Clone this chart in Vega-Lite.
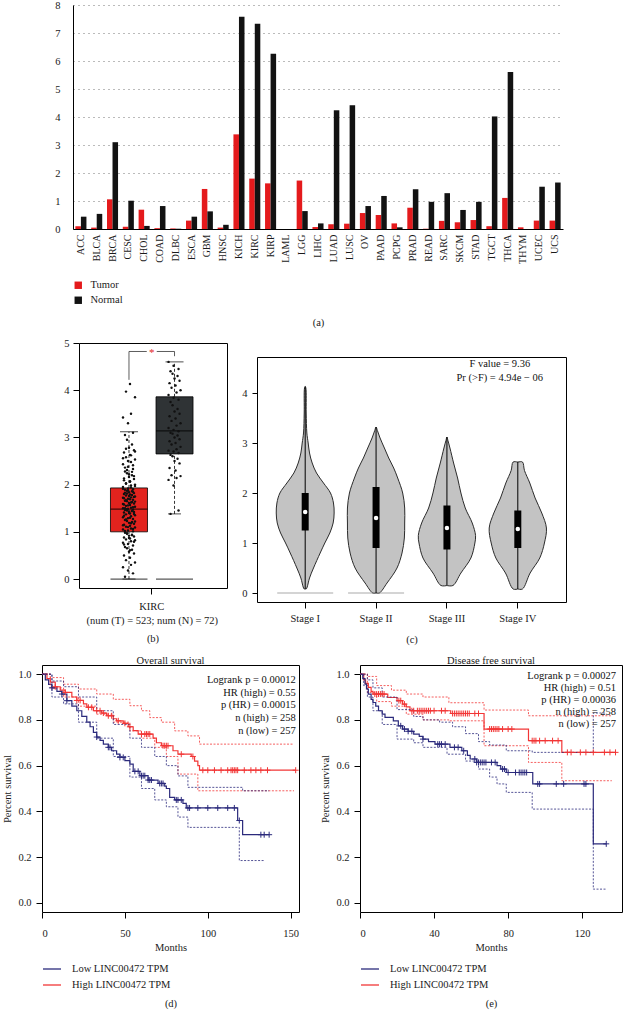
{
"$schema": "https://vega.github.io/schema/vega-lite/v6.json",
"background": "white",
"padding": {"left": 2, "top": 0, "right": 0, "bottom": 0},
"config": {
  "font": "Liberation Serif",
  "view": {"stroke": null},
  "axis": {"labelFont": "Liberation Serif", "titleFont": "Liberation Serif", "labelColor": "#1a1a1a", "titleColor": "#1a1a1a", "titleFontWeight": "normal", "labelFontSize": 10.5, "titleFontSize": 10.5, "grid": false, "domainColor": "#000", "tickColor": "#000"},
  "legend": {"labelFont": "Liberation Serif", "labelColor": "#1a1a1a", "labelFontSize": 10.5},
  "title": {"font": "Liberation Serif", "fontWeight": "normal", "fontSize": 10.5, "color": "#1a1a1a"},
  "text": {"font": "Liberation Serif"}
},
"datasets": {
  "expr": [
    {"c":"ACC","t":"Tumor","v":0.1},{"c":"ACC","t":"Normal","v":0.44},
    {"c":"BLCA","t":"Tumor","v":0.05},{"c":"BLCA","t":"Normal","v":0.54},
    {"c":"BRCA","t":"Tumor","v":1.06},{"c":"BRCA","t":"Normal","v":3.1},
    {"c":"CESC","t":"Tumor","v":0.08},{"c":"CESC","t":"Normal","v":1.01},
    {"c":"CHOL","t":"Tumor","v":0.69},{"c":"CHOL","t":"Normal","v":0.11},
    {"c":"COAD","t":"Tumor","v":0.03},{"c":"COAD","t":"Normal","v":0.82},
    {"c":"DLBC","t":"Tumor","v":0.02},{"c":"DLBC","t":"Normal","v":0.01},
    {"c":"ESCA","t":"Tumor","v":0.3},{"c":"ESCA","t":"Normal","v":0.44},
    {"c":"GBM","t":"Tumor","v":1.43},{"c":"GBM","t":"Normal","v":0.63},
    {"c":"HNSC","t":"Tumor","v":0.05},{"c":"HNSC","t":"Normal","v":0.15},
    {"c":"KICH","t":"Tumor","v":3.38},{"c":"KICH","t":"Normal","v":7.58},
    {"c":"KIRC","t":"Tumor","v":1.8},{"c":"KIRC","t":"Normal","v":7.33},
    {"c":"KIRP","t":"Tumor","v":1.63},{"c":"KIRP","t":"Normal","v":6.26},
    {"c":"LAML","t":"Tumor","v":0},{"c":"LAML","t":"Normal","v":0},
    {"c":"LGG","t":"Tumor","v":1.73},{"c":"LGG","t":"Normal","v":0.64},
    {"c":"LIHC","t":"Tumor","v":0.07},{"c":"LIHC","t":"Normal","v":0.2},
    {"c":"LUAD","t":"Tumor","v":0.17},{"c":"LUAD","t":"Normal","v":4.24},
    {"c":"LUSC","t":"Tumor","v":0.19},{"c":"LUSC","t":"Normal","v":4.42},
    {"c":"OV","t":"Tumor","v":0.57},{"c":"OV","t":"Normal","v":0.82},
    {"c":"PAAD","t":"Tumor","v":0.5},{"c":"PAAD","t":"Normal","v":1.18},
    {"c":"PCPG","t":"Tumor","v":0.2},{"c":"PCPG","t":"Normal","v":0.06},
    {"c":"PRAD","t":"Tumor","v":0.76},{"c":"PRAD","t":"Normal","v":1.42},
    {"c":"READ","t":"Tumor","v":0.01},{"c":"READ","t":"Normal","v":0.97},
    {"c":"SARC","t":"Tumor","v":0.29},{"c":"SARC","t":"Normal","v":1.28},
    {"c":"SKCM","t":"Tumor","v":0.24},{"c":"SKCM","t":"Normal","v":0.68},
    {"c":"STAD","t":"Tumor","v":0.32},{"c":"STAD","t":"Normal","v":0.97},
    {"c":"TGCT","t":"Tumor","v":0.1},{"c":"TGCT","t":"Normal","v":4.02},
    {"c":"THCA","t":"Tumor","v":1.11},{"c":"THCA","t":"Normal","v":5.61},
    {"c":"THYM","t":"Tumor","v":0.06},{"c":"THYM","t":"Normal","v":0},
    {"c":"UCEC","t":"Tumor","v":0.3},{"c":"UCEC","t":"Normal","v":1.51},
    {"c":"UCS","t":"Tumor","v":0.3},{"c":"UCS","t":"Normal","v":1.66}
  ],
  "box": [
    {"g":"Tumor","lo":0,"q1":1.0,"med":1.48,"q3":1.93,"hi":3.12},
    {"g":"Normal","lo":1.38,"q1":2.65,"med":3.14,"q3":3.86,"hi":4.6}
  ],
  "kzero": [{"g":"Tumor","v":0},{"g":"Normal","v":0}],
  "kirc": [
    {"g":"Tumor","v":0.05,"k":3},{"g":"Tumor","v":0.12,"k":11},{"g":"Tumor","v":0.18,"k":6},{"g":"Tumor","v":0.25,"k":1},{"g":"Tumor","v":0.3,"k":9},{"g":"Tumor","v":0.35,"k":13},{"g":"Tumor","v":0.4,"k":4},{"g":"Tumor","v":0.45,"k":8},{"g":"Tumor","v":0.5,"k":2},{"g":"Tumor","v":0.54,"k":12},{"g":"Tumor","v":0.58,"k":7},{"g":"Tumor","v":0.62,"k":10},{"g":"Tumor","v":0.65,"k":5},
    {"g":"Tumor","v":0.68,"k":3},{"g":"Tumor","v":0.71,"k":11},{"g":"Tumor","v":0.74,"k":6},{"g":"Tumor","v":0.77,"k":1},{"g":"Tumor","v":0.8,"k":9},{"g":"Tumor","v":0.82,"k":13},{"g":"Tumor","v":0.84,"k":4},{"g":"Tumor","v":0.86,"k":8},{"g":"Tumor","v":0.88,"k":2},{"g":"Tumor","v":0.9,"k":12},{"g":"Tumor","v":0.92,"k":7},{"g":"Tumor","v":0.94,"k":10},{"g":"Tumor","v":0.96,"k":5},
    {"g":"Tumor","v":0.98,"k":3},{"g":"Tumor","v":1.01,"k":11},{"g":"Tumor","v":1.03,"k":6},{"g":"Tumor","v":1.05,"k":1},{"g":"Tumor","v":1.07,"k":9},{"g":"Tumor","v":1.09,"k":13},{"g":"Tumor","v":1.11,"k":4},{"g":"Tumor","v":1.13,"k":8},{"g":"Tumor","v":1.15,"k":2},{"g":"Tumor","v":1.17,"k":12},{"g":"Tumor","v":1.19,"k":7},{"g":"Tumor","v":1.21,"k":10},{"g":"Tumor","v":1.23,"k":5},
    {"g":"Tumor","v":1.25,"k":3},{"g":"Tumor","v":1.27,"k":11},{"g":"Tumor","v":1.29,"k":6},{"g":"Tumor","v":1.31,"k":1},{"g":"Tumor","v":1.33,"k":9},{"g":"Tumor","v":1.35,"k":13},{"g":"Tumor","v":1.37,"k":4},{"g":"Tumor","v":1.39,"k":8},{"g":"Tumor","v":1.41,"k":2},{"g":"Tumor","v":1.42,"k":12},{"g":"Tumor","v":1.43,"k":7},{"g":"Tumor","v":1.44,"k":10},{"g":"Tumor","v":1.45,"k":5},
    {"g":"Tumor","v":1.46,"k":3},{"g":"Tumor","v":1.47,"k":11},{"g":"Tumor","v":1.49,"k":6},{"g":"Tumor","v":1.5,"k":1},{"g":"Tumor","v":1.51,"k":9},{"g":"Tumor","v":1.53,"k":13},{"g":"Tumor","v":1.55,"k":4},{"g":"Tumor","v":1.57,"k":8},{"g":"Tumor","v":1.58,"k":2},{"g":"Tumor","v":1.6,"k":12},{"g":"Tumor","v":1.61,"k":7},{"g":"Tumor","v":1.63,"k":10},{"g":"Tumor","v":1.65,"k":5},
    {"g":"Tumor","v":1.66,"k":3},{"g":"Tumor","v":1.68,"k":11},{"g":"Tumor","v":1.7,"k":6},{"g":"Tumor","v":1.72,"k":1},{"g":"Tumor","v":1.73,"k":9},{"g":"Tumor","v":1.75,"k":13},{"g":"Tumor","v":1.77,"k":4},{"g":"Tumor","v":1.79,"k":8},{"g":"Tumor","v":1.8,"k":2},{"g":"Tumor","v":1.82,"k":12},{"g":"Tumor","v":1.84,"k":7},{"g":"Tumor","v":1.86,"k":10},{"g":"Tumor","v":1.87,"k":5},
    {"g":"Tumor","v":1.89,"k":3},{"g":"Tumor","v":1.9,"k":11},{"g":"Tumor","v":1.92,"k":6},{"g":"Tumor","v":1.95,"k":1},{"g":"Tumor","v":1.98,"k":9},{"g":"Tumor","v":2.0,"k":13},{"g":"Tumor","v":2.03,"k":4},{"g":"Tumor","v":2.06,"k":8},{"g":"Tumor","v":2.09,"k":2},{"g":"Tumor","v":2.12,"k":12},{"g":"Tumor","v":2.16,"k":7},{"g":"Tumor","v":2.2,"k":10},{"g":"Tumor","v":2.24,"k":5},
    {"g":"Tumor","v":2.28,"k":3},{"g":"Tumor","v":2.33,"k":11},{"g":"Tumor","v":2.38,"k":6},{"g":"Tumor","v":2.43,"k":1},{"g":"Tumor","v":2.48,"k":9},{"g":"Tumor","v":2.53,"k":13},{"g":"Tumor","v":2.58,"k":4},{"g":"Tumor","v":2.63,"k":8},{"g":"Tumor","v":2.68,"k":2},{"g":"Tumor","v":2.73,"k":12},{"g":"Tumor","v":2.78,"k":7},{"g":"Tumor","v":2.85,"k":10},{"g":"Tumor","v":2.95,"k":5},
    {"g":"Tumor","v":3.05,"k":3},{"g":"Tumor","v":3.1,"k":11},{"g":"Tumor","v":3.3,"k":6},{"g":"Tumor","v":3.42,"k":1},{"g":"Tumor","v":3.5,"k":9},{"g":"Tumor","v":3.85,"k":13},{"g":"Tumor","v":3.97,"k":4},{"g":"Tumor","v":4.13,"k":8},
    {"g":"Tumor","v":0.61,"k":8},{"g":"Tumor","v":0.73,"k":2},{"g":"Tumor","v":0.79,"k":12},{"g":"Tumor","v":0.87,"k":7},{"g":"Tumor","v":0.93,"k":10},{"g":"Tumor","v":0.97,"k":5},{"g":"Tumor","v":1.02,"k":3},{"g":"Tumor","v":1.06,"k":11},{"g":"Tumor","v":1.1,"k":6},{"g":"Tumor","v":1.14,"k":1},{"g":"Tumor","v":1.18,"k":9},{"g":"Tumor","v":1.22,"k":13},{"g":"Tumor","v":1.26,"k":4},
    {"g":"Tumor","v":1.3,"k":8},{"g":"Tumor","v":1.34,"k":2},{"g":"Tumor","v":1.38,"k":12},{"g":"Tumor","v":1.4,"k":7},{"g":"Tumor","v":1.44,"k":10},{"g":"Tumor","v":1.48,"k":5},{"g":"Tumor","v":1.5,"k":3},{"g":"Tumor","v":1.52,"k":11},{"g":"Tumor","v":1.56,"k":6},{"g":"Tumor","v":1.59,"k":1},{"g":"Tumor","v":1.62,"k":9},{"g":"Tumor","v":1.64,"k":13},{"g":"Tumor","v":1.67,"k":4},
    {"g":"Tumor","v":1.69,"k":8},{"g":"Tumor","v":1.71,"k":2},{"g":"Tumor","v":1.74,"k":12},{"g":"Tumor","v":1.76,"k":7},{"g":"Tumor","v":1.78,"k":10},{"g":"Tumor","v":1.81,"k":5},{"g":"Tumor","v":1.83,"k":3},{"g":"Tumor","v":1.85,"k":11},{"g":"Tumor","v":1.88,"k":6},{"g":"Tumor","v":1.91,"k":1},{"g":"Tumor","v":1.94,"k":9},{"g":"Tumor","v":1.97,"k":13},{"g":"Tumor","v":2.02,"k":4},
    {"g":"Tumor","v":2.07,"k":8},{"g":"Tumor","v":2.13,"k":2},{"g":"Tumor","v":2.18,"k":12},{"g":"Tumor","v":2.22,"k":7},{"g":"Tumor","v":2.27,"k":10},{"g":"Tumor","v":2.31,"k":5},{"g":"Tumor","v":2.36,"k":3},{"g":"Tumor","v":2.41,"k":11},{"g":"Tumor","v":2.5,"k":6},{"g":"Tumor","v":2.56,"k":1},{"g":"Tumor","v":2.62,"k":9},{"g":"Tumor","v":2.7,"k":13},{"g":"Tumor","v":2.76,"k":4},
    {"g":"Normal","v":1.38,"k":3},{"g":"Normal","v":1.45,"k":11},{"g":"Normal","v":1.98,"k":6},{"g":"Normal","v":2.1,"k":1},{"g":"Normal","v":2.14,"k":9},{"g":"Normal","v":2.18,"k":13},{"g":"Normal","v":2.2,"k":4},{"g":"Normal","v":2.3,"k":8},{"g":"Normal","v":2.35,"k":2},{"g":"Normal","v":2.45,"k":12},{"g":"Normal","v":2.5,"k":7},{"g":"Normal","v":2.55,"k":10},{"g":"Normal","v":2.6,"k":5},
    {"g":"Normal","v":2.63,"k":3},{"g":"Normal","v":2.67,"k":11},{"g":"Normal","v":2.7,"k":6},{"g":"Normal","v":2.72,"k":1},{"g":"Normal","v":2.75,"k":9},{"g":"Normal","v":2.8,"k":13},{"g":"Normal","v":2.85,"k":4},{"g":"Normal","v":2.88,"k":8},{"g":"Normal","v":2.92,"k":2},{"g":"Normal","v":2.96,"k":12},{"g":"Normal","v":3.0,"k":7},{"g":"Normal","v":3.04,"k":10},{"g":"Normal","v":3.08,"k":5},
    {"g":"Normal","v":3.1,"k":3},{"g":"Normal","v":3.13,"k":11},{"g":"Normal","v":3.16,"k":6},{"g":"Normal","v":3.2,"k":1},{"g":"Normal","v":3.25,"k":9},{"g":"Normal","v":3.3,"k":13},{"g":"Normal","v":3.35,"k":4},{"g":"Normal","v":3.4,"k":8},{"g":"Normal","v":3.45,"k":2},{"g":"Normal","v":3.5,"k":12},{"g":"Normal","v":3.55,"k":7},{"g":"Normal","v":3.6,"k":10},{"g":"Normal","v":3.68,"k":5},
    {"g":"Normal","v":3.75,"k":3},{"g":"Normal","v":3.8,"k":11},{"g":"Normal","v":3.84,"k":6},{"g":"Normal","v":3.9,"k":1},{"g":"Normal","v":3.95,"k":9},{"g":"Normal","v":4.0,"k":13},{"g":"Normal","v":4.05,"k":4},{"g":"Normal","v":4.1,"k":8},{"g":"Normal","v":4.15,"k":2},{"g":"Normal","v":4.2,"k":12},{"g":"Normal","v":4.25,"k":7},{"g":"Normal","v":4.3,"k":10},{"g":"Normal","v":4.35,"k":5},
    {"g":"Normal","v":4.4,"k":3},{"g":"Normal","v":4.45,"k":11},{"g":"Normal","v":4.52,"k":6},{"g":"Normal","v":4.6,"k":1}
  ],
  "violin": [
    {"s":"Stage I","v":0.08,"w":0,"i":0},{"s":"Stage I","v":0.08,"w":-0.03,"i":1},{"s":"Stage I","v":0.12,"w":-0.06,"i":2},{"s":"Stage I","v":0.3,"w":-0.13,"i":3},{"s":"Stage I","v":0.5,"w":-0.25,"i":4},{"s":"Stage I","v":0.8,"w":-0.45,"i":5},{"s":"Stage I","v":1.0,"w":-0.59,"i":6},{"s":"Stage I","v":1.2,"w":-0.74,"i":7},{"s":"Stage I","v":1.4,"w":-0.84,"i":8},{"s":"Stage I","v":1.6,"w":-0.87,"i":9},{"s":"Stage I","v":1.8,"w":-0.85,"i":10},{"s":"Stage I","v":2.0,"w":-0.76,"i":11},{"s":"Stage I","v":2.2,"w":-0.55,"i":12},{"s":"Stage I","v":2.4,"w":-0.34,"i":13},{"s":"Stage I","v":2.6,"w":-0.21,"i":14},{"s":"Stage I","v":2.8,"w":-0.13,"i":15},{"s":"Stage I","v":3.0,"w":-0.09,"i":16},{"s":"Stage I","v":3.2,"w":-0.05,"i":17},{"s":"Stage I","v":3.6,"w":-0.03,"i":18},{"s":"Stage I","v":4.1,"w":-0.02,"i":19},{"s":"Stage I","v":4.13,"w":0,"i":20},
    {"s":"Stage I","v":4.1,"w":0.02,"i":21},{"s":"Stage I","v":3.6,"w":0.03,"i":22},{"s":"Stage I","v":3.2,"w":0.05,"i":23},{"s":"Stage I","v":3.0,"w":0.09,"i":24},{"s":"Stage I","v":2.8,"w":0.13,"i":25},{"s":"Stage I","v":2.6,"w":0.21,"i":26},{"s":"Stage I","v":2.4,"w":0.34,"i":27},{"s":"Stage I","v":2.2,"w":0.55,"i":28},{"s":"Stage I","v":2.0,"w":0.76,"i":29},{"s":"Stage I","v":1.8,"w":0.85,"i":30},{"s":"Stage I","v":1.6,"w":0.87,"i":31},{"s":"Stage I","v":1.4,"w":0.84,"i":32},{"s":"Stage I","v":1.2,"w":0.74,"i":33},{"s":"Stage I","v":1.0,"w":0.59,"i":34},{"s":"Stage I","v":0.8,"w":0.45,"i":35},{"s":"Stage I","v":0.5,"w":0.25,"i":36},{"s":"Stage I","v":0.3,"w":0.13,"i":37},{"s":"Stage I","v":0.12,"w":0.06,"i":38},{"s":"Stage I","v":0.08,"w":0.03,"i":39},{"s":"Stage I","v":0.08,"w":0,"i":40},
    {"s":"Stage II","v":0,"w":0,"i":0},{"s":"Stage II","v":0,"w":-0.1,"i":1},{"s":"Stage II","v":0.2,"w":-0.33,"i":2},{"s":"Stage II","v":0.5,"w":-0.63,"i":3},{"s":"Stage II","v":0.8,"w":-0.78,"i":4},{"s":"Stage II","v":1.1,"w":-0.85,"i":5},{"s":"Stage II","v":1.4,"w":-0.86,"i":6},{"s":"Stage II","v":1.7,"w":-0.86,"i":7},{"s":"Stage II","v":2.0,"w":-0.8,"i":8},{"s":"Stage II","v":2.3,"w":-0.65,"i":9},{"s":"Stage II","v":2.5,"w":-0.53,"i":10},{"s":"Stage II","v":2.7,"w":-0.38,"i":11},{"s":"Stage II","v":2.9,"w":-0.25,"i":12},{"s":"Stage II","v":3.1,"w":-0.12,"i":13},{"s":"Stage II","v":3.25,"w":-0.04,"i":14},{"s":"Stage II","v":3.32,"w":0,"i":15},
    {"s":"Stage II","v":3.25,"w":0.04,"i":16},{"s":"Stage II","v":3.1,"w":0.12,"i":17},{"s":"Stage II","v":2.9,"w":0.25,"i":18},{"s":"Stage II","v":2.7,"w":0.38,"i":19},{"s":"Stage II","v":2.5,"w":0.53,"i":20},{"s":"Stage II","v":2.3,"w":0.65,"i":21},{"s":"Stage II","v":2.0,"w":0.8,"i":22},{"s":"Stage II","v":1.7,"w":0.86,"i":23},{"s":"Stage II","v":1.4,"w":0.86,"i":24},{"s":"Stage II","v":1.1,"w":0.85,"i":25},{"s":"Stage II","v":0.8,"w":0.78,"i":26},{"s":"Stage II","v":0.5,"w":0.63,"i":27},{"s":"Stage II","v":0.2,"w":0.33,"i":28},{"s":"Stage II","v":0,"w":0.1,"i":29},{"s":"Stage II","v":0,"w":0,"i":30},
    {"s":"Stage III","v":0.15,"w":0,"i":0},{"s":"Stage III","v":0.15,"w":-0.18,"i":1},{"s":"Stage III","v":0.4,"w":-0.42,"i":2},{"s":"Stage III","v":0.7,"w":-0.72,"i":3},{"s":"Stage III","v":1.0,"w":-0.84,"i":4},{"s":"Stage III","v":1.15,"w":-0.86,"i":5},{"s":"Stage III","v":1.4,"w":-0.76,"i":6},{"s":"Stage III","v":1.7,"w":-0.55,"i":7},{"s":"Stage III","v":2.0,"w":-0.42,"i":8},{"s":"Stage III","v":2.3,"w":-0.32,"i":9},{"s":"Stage III","v":2.6,"w":-0.2,"i":10},{"s":"Stage III","v":2.9,"w":-0.09,"i":11},{"s":"Stage III","v":3.05,"w":-0.03,"i":12},{"s":"Stage III","v":3.12,"w":0,"i":13},
    {"s":"Stage III","v":3.05,"w":0.03,"i":14},{"s":"Stage III","v":2.9,"w":0.09,"i":15},{"s":"Stage III","v":2.6,"w":0.2,"i":16},{"s":"Stage III","v":2.3,"w":0.32,"i":17},{"s":"Stage III","v":2.0,"w":0.42,"i":18},{"s":"Stage III","v":1.7,"w":0.55,"i":19},{"s":"Stage III","v":1.4,"w":0.76,"i":20},{"s":"Stage III","v":1.15,"w":0.86,"i":21},{"s":"Stage III","v":1.0,"w":0.84,"i":22},{"s":"Stage III","v":0.7,"w":0.72,"i":23},{"s":"Stage III","v":0.4,"w":0.42,"i":24},{"s":"Stage III","v":0.15,"w":0.18,"i":25},{"s":"Stage III","v":0.15,"w":0,"i":26},
    {"s":"Stage IV","v":0.08,"w":0,"i":0},{"s":"Stage IV","v":0.08,"w":-0.14,"i":1},{"s":"Stage IV","v":0.4,"w":-0.37,"i":2},{"s":"Stage IV","v":0.7,"w":-0.66,"i":3},{"s":"Stage IV","v":1.0,"w":-0.8,"i":4},{"s":"Stage IV","v":1.3,"w":-0.86,"i":5},{"s":"Stage IV","v":1.6,"w":-0.72,"i":6},{"s":"Stage IV","v":1.9,"w":-0.52,"i":7},{"s":"Stage IV","v":2.2,"w":-0.36,"i":8},{"s":"Stage IV","v":2.45,"w":-0.2,"i":9},{"s":"Stage IV","v":2.62,"w":-0.14,"i":10},{"s":"Stage IV","v":2.62,"w":0,"i":11},
    {"s":"Stage IV","v":2.62,"w":0.14,"i":12},{"s":"Stage IV","v":2.45,"w":0.2,"i":13},{"s":"Stage IV","v":2.2,"w":0.36,"i":14},{"s":"Stage IV","v":1.9,"w":0.52,"i":15},{"s":"Stage IV","v":1.6,"w":0.72,"i":16},{"s":"Stage IV","v":1.3,"w":0.86,"i":17},{"s":"Stage IV","v":1.0,"w":0.8,"i":18},{"s":"Stage IV","v":0.7,"w":0.66,"i":19},{"s":"Stage IV","v":0.4,"w":0.37,"i":20},{"s":"Stage IV","v":0.08,"w":0.14,"i":21},{"s":"Stage IV","v":0.08,"w":0,"i":22}
  ],
  "vstat": [
    {"s":"Stage I","lo":0.08,"q1":1.25,"med":1.62,"q3":2.0,"hi":4.13},
    {"s":"Stage II","lo":0,"q1":0.9,"med":1.5,"q3":2.12,"hi":3.32},
    {"s":"Stage III","lo":0.15,"q1":0.87,"med":1.3,"q3":1.75,"hi":3.12},
    {"s":"Stage IV","lo":0.08,"q1":0.9,"med":1.28,"q3":1.65,"hi":2.62}
  ],
  "vzero": [{"s":"Stage I","v":0},{"s":"Stage II","v":0}],
  "os": [
    {"g":"High","k":"est","t":0,"s":1},{"g":"High","k":"est","t":3,"s":0.98},{"g":"High","k":"est","t":5,"s":0.965},{"g":"High","k":"est","t":8,"s":0.945},{"g":"High","k":"est","t":11,"s":0.93},{"g":"High","k":"est","t":14,"s":0.92},{"g":"High","k":"est","t":18,"s":0.9},{"g":"High","k":"est","t":21,"s":0.885},{"g":"High","k":"est","t":25,"s":0.87},{"g":"High","k":"est","t":27,"s":0.855},{"g":"High","k":"est","t":31,"s":0.84},{"g":"High","k":"est","t":36,"s":0.83},{"g":"High","k":"est","t":39,"s":0.818},{"g":"High","k":"est","t":43,"s":0.805},{"g":"High","k":"est","t":45,"s":0.796},{"g":"High","k":"est","t":49,"s":0.785},{"g":"High","k":"est","t":52,"s":0.77},{"g":"High","k":"est","t":55,"s":0.753},{"g":"High","k":"est","t":58,"s":0.738},{"g":"High","k":"est","t":67,"s":0.72},{"g":"High","k":"est","t":69,"s":0.7},{"g":"High","k":"est","t":72,"s":0.687},{"g":"High","k":"est","t":79,"s":0.665},{"g":"High","k":"est","t":82,"s":0.65},{"g":"High","k":"est","t":90,"s":0.64},{"g":"High","k":"est","t":92,"s":0.62},{"g":"High","k":"est","t":94,"s":0.6},{"g":"High","k":"est","t":95,"s":0.58},{"g":"High","k":"est","t":153,"s":0.58},
    {"g":"High","k":"hi","t":0,"s":1},{"g":"High","k":"hi","t":5,"s":0.985},{"g":"High","k":"hi","t":13,"s":0.956},{"g":"High","k":"hi","t":22,"s":0.935},{"g":"High","k":"hi","t":33,"s":0.913},{"g":"High","k":"hi","t":43,"s":0.89},{"g":"High","k":"hi","t":53,"s":0.862},{"g":"High","k":"hi","t":60,"s":0.84},{"g":"High","k":"hi","t":65,"s":0.81},{"g":"High","k":"hi","t":72,"s":0.79},{"g":"High","k":"hi","t":80,"s":0.752},{"g":"High","k":"hi","t":88,"s":0.73},{"g":"High","k":"hi","t":95,"s":0.694},{"g":"High","k":"hi","t":152,"s":0.694},
    {"g":"High","k":"lo","t":0,"s":1},{"g":"High","k":"lo","t":5,"s":0.94},{"g":"High","k":"lo","t":13,"s":0.9},{"g":"High","k":"lo","t":22,"s":0.86},{"g":"High","k":"lo","t":33,"s":0.825},{"g":"High","k":"lo","t":43,"s":0.79},{"g":"High","k":"lo","t":53,"s":0.752},{"g":"High","k":"lo","t":60,"s":0.72},{"g":"High","k":"lo","t":68,"s":0.68},{"g":"High","k":"lo","t":75,"s":0.64},{"g":"High","k":"lo","t":82,"s":0.563},{"g":"High","k":"lo","t":94,"s":0.49},{"g":"High","k":"lo","t":152,"s":0.49},
    {"g":"Low","k":"est","t":0,"s":1},{"g":"Low","k":"est","t":2,"s":0.975},{"g":"Low","k":"est","t":4,"s":0.955},{"g":"Low","k":"est","t":6,"s":0.94},{"g":"Low","k":"est","t":9,"s":0.925},{"g":"Low","k":"est","t":12,"s":0.913},{"g":"Low","k":"est","t":15,"s":0.884},{"g":"Low","k":"est","t":18,"s":0.86},{"g":"Low","k":"est","t":21,"s":0.84},{"g":"Low","k":"est","t":24,"s":0.815},{"g":"Low","k":"est","t":27,"s":0.79},{"g":"Low","k":"est","t":29,"s":0.77},{"g":"Low","k":"est","t":31,"s":0.745},{"g":"Low","k":"est","t":33,"s":0.725},{"g":"Low","k":"est","t":35,"s":0.71},{"g":"Low","k":"est","t":37,"s":0.694},{"g":"Low","k":"est","t":40,"s":0.68},{"g":"Low","k":"est","t":42,"s":0.665},{"g":"Low","k":"est","t":45,"s":0.65},{"g":"Low","k":"est","t":47,"s":0.636},{"g":"Low","k":"est","t":50,"s":0.622},{"g":"Low","k":"est","t":53,"s":0.607},{"g":"Low","k":"est","t":55,"s":0.575},{"g":"Low","k":"est","t":59,"s":0.556},{"g":"Low","k":"est","t":64,"s":0.537},{"g":"Low","k":"est","t":70,"s":0.522},{"g":"Low","k":"est","t":74,"s":0.51},{"g":"Low","k":"est","t":75,"s":0.5},{"g":"Low","k":"est","t":77,"s":0.461},{"g":"Low","k":"est","t":80,"s":0.45},{"g":"Low","k":"est","t":85,"s":0.435},{"g":"Low","k":"est","t":87,"s":0.415},{"g":"Low","k":"est","t":118,"s":0.36},{"g":"Low","k":"est","t":121,"s":0.298},{"g":"Low","k":"est","t":137,"s":0.298},
    {"g":"Low","k":"hi","t":0,"s":1},{"g":"Low","k":"hi","t":6,"s":0.97},{"g":"Low","k":"hi","t":13,"s":0.945},{"g":"Low","k":"hi","t":22,"s":0.9},{"g":"Low","k":"hi","t":33,"s":0.84},{"g":"Low","k":"hi","t":43,"s":0.78},{"g":"Low","k":"hi","t":53,"s":0.72},{"g":"Low","k":"hi","t":60,"s":0.68},{"g":"Low","k":"hi","t":68,"s":0.64},{"g":"Low","k":"hi","t":75,"s":0.6},{"g":"Low","k":"hi","t":82,"s":0.555},{"g":"Low","k":"hi","t":88,"s":0.505},{"g":"Low","k":"hi","t":121,"s":0.49},{"g":"Low","k":"hi","t":137,"s":0.49},
    {"g":"Low","k":"lo","t":0,"s":1},{"g":"Low","k":"lo","t":6,"s":0.9},{"g":"Low","k":"lo","t":13,"s":0.87},{"g":"Low","k":"lo","t":22,"s":0.79},{"g":"Low","k":"lo","t":33,"s":0.72},{"g":"Low","k":"lo","t":43,"s":0.64},{"g":"Low","k":"lo","t":53,"s":0.55},{"g":"Low","k":"lo","t":60,"s":0.5},{"g":"Low","k":"lo","t":68,"s":0.45},{"g":"Low","k":"lo","t":75,"s":0.42},{"g":"Low","k":"lo","t":82,"s":0.375},{"g":"Low","k":"lo","t":88,"s":0.33},{"g":"Low","k":"lo","t":119,"s":0.185},{"g":"Low","k":"lo","t":134,"s":0.185}
  ],
  "oscen": [
    {"g":"High","t":8,"s":0.945},{"g":"High","t":14,"s":0.92},{"g":"High","t":21,"s":0.885},{"g":"High","t":23,"s":0.885},{"g":"High","t":28,"s":0.855},{"g":"High","t":30,"s":0.855},{"g":"High","t":33,"s":0.84},{"g":"High","t":35,"s":0.84},{"g":"High","t":37,"s":0.83},{"g":"High","t":40,"s":0.818},{"g":"High","t":42,"s":0.818},{"g":"High","t":46,"s":0.796},{"g":"High","t":50,"s":0.785},{"g":"High","t":53,"s":0.77},{"g":"High","t":60,"s":0.738},{"g":"High","t":62,"s":0.738},{"g":"High","t":63,"s":0.738},{"g":"High","t":64,"s":0.738},{"g":"High","t":65,"s":0.738},{"g":"High","t":73,"s":0.687},{"g":"High","t":74,"s":0.687},{"g":"High","t":75,"s":0.687},{"g":"High","t":76,"s":0.687},{"g":"High","t":84,"s":0.65},{"g":"High","t":91,"s":0.64},{"g":"High","t":97,"s":0.58},{"g":"High","t":100,"s":0.58},{"g":"High","t":104,"s":0.58},{"g":"High","t":108,"s":0.58},{"g":"High","t":112,"s":0.58},{"g":"High","t":114,"s":0.58},{"g":"High","t":115,"s":0.58},{"g":"High","t":116,"s":0.58},{"g":"High","t":117,"s":0.58},{"g":"High","t":118,"s":0.58},{"g":"High","t":122,"s":0.58},{"g":"High","t":126,"s":0.58},{"g":"High","t":129,"s":0.58},{"g":"High","t":132,"s":0.58},{"g":"High","t":136,"s":0.58},{"g":"High","t":153,"s":0.58},
    {"g":"Low","t":6,"s":0.94},{"g":"Low","t":12,"s":0.913},{"g":"Low","t":15,"s":0.884},{"g":"Low","t":33,"s":0.725},{"g":"Low","t":40,"s":0.68},{"g":"Low","t":41,"s":0.68},{"g":"Low","t":47,"s":0.636},{"g":"Low","t":49,"s":0.636},{"g":"Low","t":56,"s":0.575},{"g":"Low","t":58,"s":0.575},{"g":"Low","t":60,"s":0.556},{"g":"Low","t":61,"s":0.556},{"g":"Low","t":62,"s":0.556},{"g":"Low","t":64,"s":0.537},{"g":"Low","t":65,"s":0.537},{"g":"Low","t":66,"s":0.537},{"g":"Low","t":71,"s":0.522},{"g":"Low","t":72,"s":0.522},{"g":"Low","t":73,"s":0.522},{"g":"Low","t":81,"s":0.45},{"g":"Low","t":82,"s":0.45},{"g":"Low","t":84,"s":0.45},{"g":"Low","t":88,"s":0.415},{"g":"Low","t":89,"s":0.415},{"g":"Low","t":94,"s":0.415},{"g":"Low","t":100,"s":0.415},{"g":"Low","t":106,"s":0.415},{"g":"Low","t":112,"s":0.415},{"g":"Low","t":116,"s":0.415},{"g":"Low","t":119,"s":0.36},{"g":"Low","t":132,"s":0.298},{"g":"Low","t":134,"s":0.298},{"g":"Low","t":137,"s":0.298}
  ],
  "dfs": [
    {"g":"High","k":"est","t":0,"s":1},{"g":"High","k":"est","t":2,"s":0.975},{"g":"High","k":"est","t":3,"s":0.96},{"g":"High","k":"est","t":4.5,"s":0.942},{"g":"High","k":"est","t":6,"s":0.925},{"g":"High","k":"est","t":7,"s":0.913},{"g":"High","k":"est","t":15,"s":0.898},{"g":"High","k":"est","t":20,"s":0.884},{"g":"High","k":"est","t":23,"s":0.869},{"g":"High","k":"est","t":25,"s":0.857},{"g":"High","k":"est","t":27,"s":0.84},{"g":"High","k":"est","t":49,"s":0.828},{"g":"High","k":"est","t":67,"s":0.76},{"g":"High","k":"est","t":91,"s":0.709},{"g":"High","k":"est","t":109,"s":0.658},{"g":"High","k":"est","t":138,"s":0.658},
    {"g":"High","k":"hi","t":0,"s":1},{"g":"High","k":"hi","t":4,"s":0.99},{"g":"High","k":"hi","t":9,"s":0.95},{"g":"High","k":"hi","t":17,"s":0.93},{"g":"High","k":"hi","t":25,"s":0.913},{"g":"High","k":"hi","t":34,"s":0.9},{"g":"High","k":"hi","t":48,"s":0.875},{"g":"High","k":"hi","t":67,"s":0.843},{"g":"High","k":"hi","t":91,"s":0.818},{"g":"High","k":"hi","t":136,"s":0.818},
    {"g":"High","k":"lo","t":0,"s":1},{"g":"High","k":"lo","t":4,"s":0.92},{"g":"High","k":"lo","t":9,"s":0.88},{"g":"High","k":"lo","t":17,"s":0.86},{"g":"High","k":"lo","t":25,"s":0.825},{"g":"High","k":"lo","t":34,"s":0.8},{"g":"High","k":"lo","t":48,"s":0.796},{"g":"High","k":"lo","t":67,"s":0.687},{"g":"High","k":"lo","t":91,"s":0.614},{"g":"High","k":"lo","t":109,"s":0.534},{"g":"High","k":"lo","t":136,"s":0.534},
    {"g":"Low","k":"est","t":0,"s":1},{"g":"Low","k":"est","t":1.5,"s":0.98},{"g":"Low","k":"est","t":2.7,"s":0.956},{"g":"Low","k":"est","t":3.5,"s":0.935},{"g":"Low","k":"est","t":4.5,"s":0.913},{"g":"Low","k":"est","t":6,"s":0.89},{"g":"Low","k":"est","t":7,"s":0.876},{"g":"Low","k":"est","t":8.5,"s":0.86},{"g":"Low","k":"est","t":10,"s":0.84},{"g":"Low","k":"est","t":12,"s":0.825},{"g":"Low","k":"est","t":13.5,"s":0.811},{"g":"Low","k":"est","t":18,"s":0.796},{"g":"Low","k":"est","t":20.7,"s":0.774},{"g":"Low","k":"est","t":23,"s":0.76},{"g":"Low","k":"est","t":26,"s":0.75},{"g":"Low","k":"est","t":29,"s":0.738},{"g":"Low","k":"est","t":32,"s":0.728},{"g":"Low","k":"est","t":34,"s":0.716},{"g":"Low","k":"est","t":37,"s":0.705},{"g":"Low","k":"est","t":40.5,"s":0.694},{"g":"Low","k":"est","t":48.6,"s":0.68},{"g":"Low","k":"est","t":55,"s":0.665},{"g":"Low","k":"est","t":58,"s":0.645},{"g":"Low","k":"est","t":59.5,"s":0.629},{"g":"Low","k":"est","t":63,"s":0.614},{"g":"Low","k":"est","t":74,"s":0.6},{"g":"Low","k":"est","t":76,"s":0.585},{"g":"Low","k":"est","t":79,"s":0.57},{"g":"Low","k":"est","t":93.3,"s":0.52},{"g":"Low","k":"est","t":126,"s":0.258},{"g":"Low","k":"est","t":133,"s":0.258},
    {"g":"Low","k":"hi","t":0,"s":1},{"g":"Low","k":"hi","t":4,"s":0.975},{"g":"Low","k":"hi","t":7,"s":0.94},{"g":"Low","k":"hi","t":12,"s":0.9},{"g":"Low","k":"hi","t":20,"s":0.845},{"g":"Low","k":"hi","t":29,"s":0.815},{"g":"Low","k":"hi","t":34,"s":0.8},{"g":"Low","k":"hi","t":43,"s":0.79},{"g":"Low","k":"hi","t":50,"s":0.77},{"g":"Low","k":"hi","t":57,"s":0.74},{"g":"Low","k":"hi","t":64,"s":0.705},{"g":"Low","k":"hi","t":70,"s":0.69},{"g":"Low","k":"hi","t":79,"s":0.665},{"g":"Low","k":"hi","t":93,"s":0.658},{"g":"Low","k":"hi","t":126,"s":0.83},{"g":"Low","k":"hi","t":133,"s":0.83},
    {"g":"Low","k":"lo","t":0,"s":1},{"g":"Low","k":"lo","t":2,"s":0.95},{"g":"Low","k":"lo","t":4,"s":0.9},{"g":"Low","k":"lo","t":7,"s":0.84},{"g":"Low","k":"lo","t":12,"s":0.78},{"g":"Low","k":"lo","t":20,"s":0.716},{"g":"Low","k":"lo","t":29,"s":0.7},{"g":"Low","k":"lo","t":34,"s":0.68},{"g":"Low","k":"lo","t":47,"s":0.65},{"g":"Low","k":"lo","t":57,"s":0.62},{"g":"Low","k":"lo","t":64,"s":0.585},{"g":"Low","k":"lo","t":70,"s":0.55},{"g":"Low","k":"lo","t":74,"s":0.52},{"g":"Low","k":"lo","t":79,"s":0.483},{"g":"Low","k":"lo","t":93,"s":0.41},{"g":"Low","k":"lo","t":126,"s":0.06},{"g":"Low","k":"lo","t":133,"s":0.06}
  ],
  "dfscen": [
    {"g":"High","t":8,"s":0.913},{"g":"High","t":9,"s":0.913},{"g":"High","t":10,"s":0.913},{"g":"High","t":11,"s":0.913},{"g":"High","t":12,"s":0.913},{"g":"High","t":13,"s":0.913},{"g":"High","t":21,"s":0.884},{"g":"High","t":22,"s":0.884},{"g":"High","t":24,"s":0.869},{"g":"High","t":28,"s":0.84},{"g":"High","t":29,"s":0.84},{"g":"High","t":31,"s":0.84},{"g":"High","t":32,"s":0.84},{"g":"High","t":33,"s":0.84},{"g":"High","t":34,"s":0.84},{"g":"High","t":35,"s":0.84},{"g":"High","t":36,"s":0.84},{"g":"High","t":37,"s":0.84},{"g":"High","t":38,"s":0.84},{"g":"High","t":40,"s":0.84},{"g":"High","t":44,"s":0.84},{"g":"High","t":46,"s":0.84},{"g":"High","t":50,"s":0.828},{"g":"High","t":51,"s":0.828},{"g":"High","t":52,"s":0.828},{"g":"High","t":53,"s":0.828},{"g":"High","t":54,"s":0.828},{"g":"High","t":55,"s":0.828},{"g":"High","t":56,"s":0.828},{"g":"High","t":57,"s":0.828},{"g":"High","t":58,"s":0.828},{"g":"High","t":59,"s":0.828},{"g":"High","t":62,"s":0.828},{"g":"High","t":64,"s":0.828},{"g":"High","t":70,"s":0.76},{"g":"High","t":71,"s":0.76},{"g":"High","t":72,"s":0.76},{"g":"High","t":73,"s":0.76},{"g":"High","t":74,"s":0.76},{"g":"High","t":75,"s":0.76},{"g":"High","t":77,"s":0.76},{"g":"High","t":80,"s":0.76},{"g":"High","t":82,"s":0.76},{"g":"High","t":93,"s":0.709},{"g":"High","t":94,"s":0.709},{"g":"High","t":95,"s":0.709},{"g":"High","t":97,"s":0.709},{"g":"High","t":100,"s":0.709},{"g":"High","t":104,"s":0.709},{"g":"High","t":107,"s":0.709},{"g":"High","t":112,"s":0.658},{"g":"High","t":114,"s":0.658},{"g":"High","t":119,"s":0.658},{"g":"High","t":122,"s":0.658},{"g":"High","t":126,"s":0.658},{"g":"High","t":132,"s":0.658},{"g":"High","t":135,"s":0.658},{"g":"High","t":138,"s":0.658},
    {"g":"Low","t":22,"s":0.774},{"g":"Low","t":24,"s":0.76},{"g":"Low","t":26,"s":0.75},{"g":"Low","t":28,"s":0.75},{"g":"Low","t":34,"s":0.716},{"g":"Low","t":42,"s":0.694},{"g":"Low","t":43,"s":0.694},{"g":"Low","t":44,"s":0.694},{"g":"Low","t":46,"s":0.694},{"g":"Low","t":51,"s":0.68},{"g":"Low","t":53,"s":0.68},{"g":"Low","t":56,"s":0.665},{"g":"Low","t":62,"s":0.629},{"g":"Low","t":63,"s":0.614},{"g":"Low","t":64,"s":0.614},{"g":"Low","t":65,"s":0.614},{"g":"Low","t":66,"s":0.614},{"g":"Low","t":67,"s":0.614},{"g":"Low","t":68,"s":0.614},{"g":"Low","t":71,"s":0.614},{"g":"Low","t":73,"s":0.614},{"g":"Low","t":77,"s":0.585},{"g":"Low","t":78,"s":0.585},{"g":"Low","t":80,"s":0.57},{"g":"Low","t":84,"s":0.57},{"g":"Low","t":86,"s":0.57},{"g":"Low","t":87,"s":0.57},{"g":"Low","t":88,"s":0.57},{"g":"Low","t":89,"s":0.57},{"g":"Low","t":90,"s":0.57},{"g":"Low","t":96,"s":0.52},{"g":"Low","t":97,"s":0.52},{"g":"Low","t":106,"s":0.52},{"g":"Low","t":110,"s":0.52},{"g":"Low","t":121,"s":0.52},{"g":"Low","t":122,"s":0.52},{"g":"Low","t":133,"s":0.258}
  ]
},
"spacing": 9,
"resolve": {"scale": {"color": "independent", "xOffset": "independent", "x": "independent", "y": "independent"}, "legend": {"color": "independent"}},
"vconcat": [
  {
    "spacing": 11,
    "resolve": {"scale": {"color": "independent", "xOffset": "independent", "x": "independent", "y": "independent"}},
    "hconcat": [
      {"width": 1, "height": 1, "data": {"values": []}, "mark": {"type": "point"}},
      {
        "width": 490, "height": 224,
        "data": {"name": "expr"},
        "mark": {"type": "bar"},
        "encoding": {
          "x": {"field": "c", "type": "nominal", "sort": null, "scale": {"paddingInner": 0.3, "paddingOuter": 0.15},
            "axis": {"labelAngle": -90, "ticks": false, "labelPadding": 5, "labelFontSize": 10, "title": "(a)", "titlePadding": 54}},
          "xOffset": {"field": "t", "type": "nominal", "sort": ["Tumor", "Normal"]},
          "y": {"field": "v", "type": "quantitative", "scale": {"domain": [0, 8], "nice": false},
            "axis": {"values": [0,1,2,3,4,5,6,7,8], "grid": true, "gridDash": [1, 4], "gridColor": "#777", "ticks": false, "labelPadding": 13, "title": null}},
          "color": {"field": "t", "type": "nominal", "scale": {"domain": ["Tumor", "Normal"], "range": ["#e41a1c", "#121212"]},
            "legend": {"orient": "none", "legendX": 0, "legendY": 275, "title": null, "symbolType": "square", "symbolSize": 55, "labelOffset": 7, "rowPadding": 4, "symbolStrokeWidth": 0, "direction": "vertical"}}
        }
      }
    ]
  },
  {
    "spacing": 20,
    "resolve": {"scale": {"color": "independent", "xOffset": "independent", "x": "independent", "y": "independent"}},
    "hconcat": [
      {"width": 1, "height": 1, "data": {"values": []}, "mark": {"type": "point"}},
      {
        "spacing": 13,
        "resolve": {"scale": {"color": "independent", "xOffset": "independent", "x": "independent", "y": "independent"}},
        "hconcat": [
          {
            "width": 148, "height": 245,
            "view": {"stroke": "#000", "strokeWidth": 1},
            "title": {"text": "(b)", "orient": "bottom", "offset": 8},
            "encoding": {
              "x": {"field": "g", "type": "nominal", "scale": {"domain": ["Tumor", "KIRC", "Normal"], "range": [38.6, 106.9], "paddingInner": 0, "paddingOuter": 0},
                "axis": {"values": ["KIRC"], "labelAngle": 0, "tickSize": 6, "labelPadding": 7, "domain": false, "title": "(num (T) = 523; num (N) = 72)", "titlePadding": 4}}
            },
            "layer": [
              {"data": {"name": "box"}, "mark": {"type": "rule", "strokeDash": [3, 2], "color": "#000", "strokeWidth": 0.8},
               "encoding": {"y": {"field": "lo", "type": "quantitative", "scale": {"domain": [-0.19, 5], "nice": false, "zero": false},
                  "axis": {"values": [0,1,2,3,4,5], "tickSize": 6, "labelPadding": 4, "domain": false, "title": null}},
                  "y2": {"field": "q1"}}},
              {"data": {"name": "box"}, "mark": {"type": "rule", "strokeDash": [3, 2], "color": "#000", "strokeWidth": 0.8},
               "encoding": {"y": {"field": "q3", "type": "quantitative"}, "y2": {"field": "hi"}}},
              {"data": {"name": "box"}, "mark": {"type": "tick", "size": 18, "thickness": 1, "color": "#000"},
               "encoding": {"y": {"field": "hi", "type": "quantitative"}}},
              {"data": {"name": "box"}, "mark": {"type": "tick", "size": 13, "thickness": 1, "color": "#000"},
               "encoding": {"y": {"field": "lo", "type": "quantitative"}}},
              {"data": {"name": "box"}, "mark": {"type": "bar", "width": 37, "stroke": "#000", "strokeWidth": 0.8},
               "encoding": {"y": {"field": "q1", "type": "quantitative"}, "y2": {"field": "q3"},
                 "color": {"field": "g", "type": "nominal", "scale": {"domain": ["Tumor", "Normal"], "range": ["#e3231e", "#2f3335"]}, "legend": null}}},
              {"data": {"name": "box"}, "mark": {"type": "tick", "size": 37, "thickness": 1.3, "color": "#000"},
               "encoding": {"y": {"field": "med", "type": "quantitative"}}},
              {"data": {"name": "kzero"}, "mark": {"type": "tick", "size": 37, "thickness": 1.2, "color": "#111"},
               "encoding": {"y": {"field": "v", "type": "quantitative"}}},
              {"data": {"name": "kirc"}, "mark": {"type": "point", "filled": true, "size": 6, "color": "#111", "opacity": 1},
               "encoding": {"y": {"field": "v", "type": "quantitative"},
                 "xOffset": {"field": "k", "type": "ordinal", "scale": {"range": [5.4, 17.4], "paddingOuter": 0, "paddingInner": 0}}}},
              {"data": {"values": [{}]}, "mark": {"type": "rule", "color": "#333", "strokeWidth": 0.8, "x2Offset": -5},
               "encoding": {"x": {"datum": "Tumor"}, "x2": {"datum": "KIRC"}, "y": {"datum": 4.82}}},
              {"data": {"values": [{}]}, "mark": {"type": "rule", "color": "#333", "strokeWidth": 0.8, "xOffset": 5},
               "encoding": {"x": {"datum": "KIRC"}, "x2": {"datum": "Normal"}, "y": {"datum": 4.82}}},
              {"data": {"values": [{}]}, "mark": {"type": "rule", "color": "#333", "strokeWidth": 0.8},
               "encoding": {"x": {"datum": "Tumor"}, "y": {"datum": 4.82}, "y2": {"datum": 4.22}}},
              {"data": {"values": [{}]}, "mark": {"type": "rule", "color": "#333", "strokeWidth": 0.8},
               "encoding": {"x": {"datum": "Normal"}, "y": {"datum": 4.82}, "y2": {"datum": 4.72}}},
              {"data": {"values": [{}]}, "mark": {"type": "text", "text": "*", "color": "#e3231e", "fontSize": 11, "baseline": "middle", "dy": 2},
               "encoding": {"x": {"datum": "KIRC"}, "y": {"datum": 4.82}}}
            ]
          },
          {
            "spacing": 12,
            "resolve": {"scale": {"color": "independent", "xOffset": "independent", "x": "independent", "y": "independent"}},
            "vconcat": [
              {"width": 1, "height": 1, "data": {"values": []}, "mark": {"type": "point"}},
              {
                "width": 309, "height": 245,
                "view": {"stroke": "#000", "strokeWidth": 1},
                "encoding": {
                  "x": {"field": "s", "type": "nominal", "scale": {"domain": ["Stage I", "Stage II", "Stage III", "Stage IV"], "paddingInner": 0, "paddingOuter": 0.18},
                    "axis": {"labelAngle": 0, "tickSize": 6, "labelPadding": 5, "domain": false, "title": "(c)", "titlePadding": 11}}
                },
                "layer": [
                  {"data": {"name": "violin"}, "mark": {"type": "line", "filled": true, "fill": "#c3c3c3", "stroke": "#2b2b2b", "strokeWidth": 1, "interpolate": "catmull-rom"},
                   "encoding": {
                     "xOffset": {"field": "w", "type": "quantitative", "scale": {"domain": [-1.065, 1.065], "nice": false, "zero": false}},
                     "y": {"field": "v", "type": "quantitative", "scale": {"domain": [-0.18, 4.72], "nice": false, "zero": false},
                       "axis": {"values": [0,1,2,3,4], "format": "d", "tickSize": 5, "labelPadding": 5, "domain": false, "title": null}},
                     "order": {"field": "i", "type": "quantitative"},
                     "detail": {"field": "s"}}},
                  {"data": {"name": "vzero"}, "mark": {"type": "tick", "size": 56, "thickness": 1, "color": "#888"},
                   "encoding": {"y": {"field": "v", "type": "quantitative"}}},
                  {"data": {"name": "vstat"}, "mark": {"type": "rule", "color": "#000", "strokeWidth": 1},
                   "encoding": {"y": {"field": "lo", "type": "quantitative"}, "y2": {"field": "hi"}}},
                  {"data": {"name": "vstat"}, "mark": {"type": "rule", "color": "#000", "strokeWidth": 7, "strokeCap": "butt"},
                   "encoding": {"y": {"field": "q1", "type": "quantitative"}, "y2": {"field": "q3"}}},
                  {"data": {"name": "vstat"}, "mark": {"type": "point", "filled": true, "color": "#fff", "size": 20, "opacity": 1},
                   "encoding": {"y": {"field": "med", "type": "quantitative"}}},
                  {"data": {"values": [{}]}, "mark": {"type": "text", "text": ["F value = 9.36", "Pr (>F) = 4.94e − 06"], "align": "center", "baseline": "top", "fontSize": 10.5, "lineHeight": 14, "dx": -18, "color": "#111"},
                   "encoding": {"x": {"datum": "Stage IV"}, "y": {"datum": 4.68}}}
                ]
              }
            ]
          }
        ]
      }
    ]
  },
  {
    "spacing": 18,
    "resolve": {"scale": {"color": "independent", "x": "independent", "y": "independent"}, "legend": {"color": "independent"}},
    "hconcat": [
      {
        "width": 257, "height": 247,
        "view": {"stroke": "#000", "strokeWidth": 1},
        "title": {"text": "Overall survival", "offset": -1},
        "layer": [
          {"data": {"name": "os"}, "transform": [{"filter": "datum.k == 'est'"}],
           "mark": {"type": "line", "interpolate": "step-after", "strokeWidth": 1.2},
           "encoding": {
             "x": {"field": "t", "type": "quantitative", "scale": {"domain": [0, 155], "nice": false, "zero": false},
               "axis": {"values": [0, 50, 100, 150], "tickSize": 6, "labelPadding": 10, "domain": false, "title": ["Months", "(d)"], "titlePadding": 4, "titleLineHeight": 56}},
             "y": {"field": "s", "type": "quantitative", "scale": {"domain": [-0.04, 1.04], "nice": false, "zero": false},
               "axis": {"values": [0, 0.2, 0.4, 0.6, 0.8, 1], "format": ".1f", "tickSize": 6, "labelPadding": 5, "domain": false, "title": "Percent survival", "titlePadding": 5}},
             "color": {"field": "g", "type": "nominal", "scale": {"domain": ["Low", "High"], "range": ["#2b2a7c", "#f23636"]},
               "legend": {"orient": "none", "legendX": 0, "legendY": 294, "title": null, "symbolType": "stroke", "symbolSize": 324, "symbolStrokeWidth": 1.3, "labelOffset": 10, "rowPadding": -3, "labelExpr": "datum.label + ' LINC00472 TPM'"}},
             "detail": {"field": "k"}}},
          {"data": {"name": "os"}, "transform": [{"filter": "datum.k != 'est'"}],
           "mark": {"type": "line", "interpolate": "step-after", "strokeWidth": 0.8, "strokeDash": [2, 1.5]},
           "encoding": {"x": {"field": "t", "type": "quantitative"}, "y": {"field": "s", "type": "quantitative"}, "color": {"field": "g", "type": "nominal"}, "detail": {"field": "k"}}},
          {"data": {"name": "oscen"},
           "mark": {"type": "point", "shape": "M-1,0H1M0,-1V1", "filled": false, "size": 36, "strokeWidth": 1, "opacity": 1},
           "encoding": {"x": {"field": "t", "type": "quantitative"}, "y": {"field": "s", "type": "quantitative"}, "color": {"field": "g", "type": "nominal"}}},
          {"data": {"values": [{}]},
           "mark": {"type": "text", "text": ["Logrank p = 0.00012", "HR (high) = 0.55", "p (HR) = 0.00015", "n (high) = 258", "n (low) = 257"], "align": "right", "baseline": "top", "fontSize": 10.5, "lineHeight": 12.7, "color": "#111"},
           "encoding": {"x": {"datum": 153}, "y": {"datum": 0.996}}}
        ]
      },
      {
        "width": 262, "height": 247,
        "view": {"stroke": "#000", "strokeWidth": 1},
        "title": {"text": "Disease free survival", "offset": -1},
        "layer": [
          {"data": {"name": "dfs"}, "transform": [{"filter": "datum.k == 'est'"}],
           "mark": {"type": "line", "interpolate": "step-after", "strokeWidth": 1.2},
           "encoding": {
             "x": {"field": "t", "type": "quantitative", "scale": {"domain": [0, 141.5], "nice": false, "zero": false},
               "axis": {"values": [0, 20, 40, 60, 80, 100, 120, 140], "tickSize": 6, "labelPadding": 10, "domain": false, "title": ["Months", "(e)"], "titlePadding": 4, "titleLineHeight": 56}},
             "y": {"field": "s", "type": "quantitative", "scale": {"domain": [-0.04, 1.04], "nice": false, "zero": false},
               "axis": {"values": [0, 0.2, 0.4, 0.6, 0.8, 1], "format": ".1f", "tickSize": 6, "labelPadding": 5, "domain": false, "title": "Percent survival", "titlePadding": 5}},
             "color": {"field": "g", "type": "nominal", "scale": {"domain": ["Low", "High"], "range": ["#2b2a7c", "#f23636"]},
               "legend": {"orient": "none", "legendX": 0, "legendY": 294, "title": null, "symbolType": "stroke", "symbolSize": 324, "symbolStrokeWidth": 1.3, "labelOffset": 10, "rowPadding": -3, "labelExpr": "datum.label + ' LINC00472 TPM'"}},
             "detail": {"field": "k"}}},
          {"data": {"name": "dfs"}, "transform": [{"filter": "datum.k != 'est'"}],
           "mark": {"type": "line", "interpolate": "step-after", "strokeWidth": 0.8, "strokeDash": [2, 1.5]},
           "encoding": {"x": {"field": "t", "type": "quantitative"}, "y": {"field": "s", "type": "quantitative"}, "color": {"field": "g", "type": "nominal"}, "detail": {"field": "k"}}},
          {"data": {"name": "dfscen"},
           "mark": {"type": "point", "shape": "M-1,0H1M0,-1V1", "filled": false, "size": 36, "strokeWidth": 1, "opacity": 1},
           "encoding": {"x": {"field": "t", "type": "quantitative"}, "y": {"field": "s", "type": "quantitative"}, "color": {"field": "g", "type": "nominal"}}},
          {"data": {"values": [{}]},
           "mark": {"type": "text", "text": ["Logrank p = 0.00027", "HR (high) = 0.51", "p (HR) = 0.00036", "n (high) = 258", "n (low) = 257"], "align": "right", "baseline": "top", "fontSize": 10.5, "lineHeight": 12, "color": "#111"},
           "encoding": {"x": {"datum": 138.3}, "y": {"datum": 1.012}}}
        ]
      }
    ]
  }
]
}
